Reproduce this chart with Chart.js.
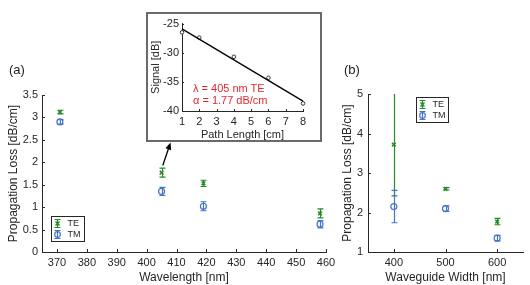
<!DOCTYPE html>
<html>
<head>
<meta charset="utf-8">
<script src="https://cdn.jsdelivr.net/npm/chart.js@4"></script>
<style>
  body { margin: 0; background: #fff; width: 530px; height: 285px; position: relative; overflow: hidden;
         font-family: "Liberation Sans", Arial, sans-serif; }
  #chartA { position: absolute; left: 0; top: 0; }
  #chartB { position: absolute; left: 340px; top: 0; }
  #insetBox { position: absolute; left: 146px; top: 12px; width: 172px; height: 126px;
              border: 2px solid #6a6a6a; background: #fff; }
  #inset { position: absolute; left: 0; top: 0; }
  .panel { position: absolute; font-size: 13px; color: #222; }
  .note { position: absolute; font-size: 11px; color: #e8272b; white-space: nowrap; }
</style>
</head>
<body>
<canvas id="chartA" width="340" height="285"></canvas>
<canvas id="chartB" width="190" height="285"></canvas>
<div id="insetBox">
  <canvas id="inset" width="172" height="126"></canvas>
  <div class="note" style="left:45px;top:68px">λ = 405 nm TE</div>
  <div class="note" style="left:45px;top:80px">α = 1.77 dB/cm</div>
</div>
<div class="panel" style="left:9px;top:62px">(a)</div>
<div class="panel" style="left:344px;top:62px">(b)</div>

<script>
// (a) loss vs wavelength
const wavelengths = [371, 405, 419, 458];
const teLossA = [3.12, 1.77, 1.53, 0.86];
const teErrA = [0.04, 0.1, 0.07, 0.1];
const tmLossA = [2.9, 1.35, 1.02, 0.62];
const tmErrA = [0.05, 0.09, 0.1, 0.08];
const waveTicks = [370, 380, 390, 400, 410, 420, 430, 440, 450, 460];
const lossTicksA = [0, 0.5, 1, 1.5, 2, 2.5, 3, 3.5];

// (b) loss vs waveguide width
const widths = [400, 500, 600];
const teLossB = [3.72, 2.6, 1.77];
const teErrB = [1.3, 0.03, 0.08];
const tmLossB = [2.15, 2.1, 1.35];
const tmErrB = [0.41, 0.07, 0.07];
const widthTicks = [400, 500, 600];
const lossTicksB = [1, 2, 3, 4, 5];

// inset: cutback measurement
const pathLengths = [1, 2, 4, 6, 8];
const signals = [-26.5, -27.4, -30.7, -34.3, -38.7];
const fitLengths = [1, 8];
const fitSignals = [-25.9, -38.3];
const pathTicks = [1, 2, 3, 4, 5, 6, 7, 8];
const signalTicks = [-40, -35, -30, -25];

const GREEN = 'rgb(38,140,38)';
const BLUE = 'rgb(70,116,200)';
const INK = '#262626';
const FONT = '"Liberation Sans", Arial, sans-serif';

const pts = (xs, ys) => xs.map((x, i) => ({ x, y: ys[i] }));

const errorBars = {
  id: 'errorBars',
  beforeDatasetsDraw(chart) {
    const { ctx, chartArea, scales: { x, y } } = chart;
    ctx.save();
    chart.data.datasets.forEach(ds => {
      if (!ds.errors) return;
      ctx.strokeStyle = ds.borderColor;
      ctx.lineWidth = 1.2;
      ds.data.forEach((p, i) => {
        const px = Math.round(x.getPixelForValue(p.x)) + 0.5;
        const hi = y.getPixelForValue(p.y + ds.errors[i]);
        const lo = y.getPixelForValue(p.y - ds.errors[i]);
        ctx.beginPath();
        ctx.moveTo(px, Math.max(hi, chartArea.top));
        ctx.lineTo(px, lo);
        if (hi >= chartArea.top) { ctx.moveTo(px - 3, hi); ctx.lineTo(px + 3, hi); }
        ctx.moveTo(px - 3, lo); ctx.lineTo(px + 3, lo);
        ctx.stroke();
      });
    });
    ctx.restore();
  }
};

// MATLAB-style ticks pointing into the plot
const inTicks = {
  id: 'inTicks',
  afterDraw(chart, args, opts) {
    const { ctx, chartArea: a, scales: { x, y } } = chart;
    const len = opts.len || 3;
    ctx.save();
    ctx.strokeStyle = INK;
    ctx.lineWidth = 1;
    ctx.beginPath();
    x.ticks.forEach(t => {
      const px = Math.round(x.getPixelForValue(t.value)) + 0.5;
      ctx.moveTo(px, a.bottom); ctx.lineTo(px, a.bottom - len);
    });
    y.ticks.forEach(t => {
      const py = Math.round(y.getPixelForValue(t.value)) + 0.5;
      ctx.moveTo(a.left, py); ctx.lineTo(a.left + len, py);
    });
    ctx.stroke();
    ctx.restore();
  }
};

const boxLegend = {
  id: 'boxLegend',
  afterDraw(chart, args, opts) {
    if (!opts.w) return;
    const { ctx, chartArea } = chart;
    const x0 = Math.round(chartArea.left + opts.dx) + 0.5;
    const y0 = Math.round(chartArea.top + opts.dy) + 0.5;
    ctx.save();
    ctx.fillStyle = '#fff';
    ctx.fillRect(x0, y0, opts.w, opts.h);
    ctx.strokeStyle = INK;
    ctx.lineWidth = 1;
    ctx.strokeRect(x0, y0, opts.w, opts.h);
    ctx.font = '9px ' + FONT;
    ctx.textBaseline = 'middle';
    chart.data.datasets.forEach((ds, i) => {
      const gx = x0 + 6, gy = y0 + 7 + i * 11;
      ctx.strokeStyle = ds.borderColor;
      ctx.lineWidth = 1.2;
      ctx.beginPath();
      ctx.moveTo(gx, gy - 4); ctx.lineTo(gx, gy + 4);
      ctx.moveTo(gx - 3, gy - 4); ctx.lineTo(gx + 3, gy - 4);
      ctx.moveTo(gx - 3, gy + 4); ctx.lineTo(gx + 3, gy + 4);
      ctx.stroke();
      if (ds.pointStyle === 'circle') {
        ctx.beginPath(); ctx.arc(gx, gy, 2.8, 0, Math.PI * 2); ctx.stroke();
      } else {
        ctx.lineWidth = 1.5;
        ctx.beginPath();
        ctx.moveTo(gx - 2, gy - 2); ctx.lineTo(gx + 2, gy + 2);
        ctx.moveTo(gx - 2, gy + 2); ctx.lineTo(gx + 2, gy - 2);
        ctx.stroke();
      }
      ctx.fillStyle = INK;
      ctx.fillText(ds.label, x0 + 16, gy + 0.5);
    });
    ctx.restore();
  }
};

const pointerArrow = {
  id: 'pointerArrow',
  afterDraw(chart, args, opts) {
    if (!opts.from) return;
    const { ctx, scales: { x, y } } = chart;
    const x1 = x.getPixelForValue(opts.from[0]), y1 = y.getPixelForValue(opts.from[1]);
    const x2 = x.getPixelForValue(opts.to[0]), y2 = y.getPixelForValue(opts.to[1]);
    const ang = Math.atan2(y2 - y1, x2 - x1);
    ctx.save();
    ctx.strokeStyle = '#000';
    ctx.fillStyle = '#000';
    ctx.lineWidth = 1.3;
    ctx.beginPath();
    ctx.moveTo(x1, y1);
    ctx.lineTo(x2 - 5 * Math.cos(ang), y2 - 5 * Math.sin(ang));
    ctx.stroke();
    ctx.beginPath();
    ctx.moveTo(x2, y2);
    ctx.lineTo(x2 - 7 * Math.cos(ang) + 3 * Math.sin(ang), y2 - 7 * Math.sin(ang) - 3 * Math.cos(ang));
    ctx.lineTo(x2 - 7 * Math.cos(ang) - 3 * Math.sin(ang), y2 - 7 * Math.sin(ang) + 3 * Math.cos(ang));
    ctx.closePath();
    ctx.fill();
    ctx.restore();
  }
};

function axis(o) {
  return {
    type: 'linear',
    min: o.min,
    max: o.max,
    afterBuildTicks: s => { s.ticks = o.ticks.map(v => ({ value: v })); },
    afterFit: s => { if (o.width) s.width = o.width; if (o.height) s.height = o.height; },
    grid: { display: false, drawTicks: false },
    border: { display: true, color: INK, width: 1 },
    ticks: {
      color: INK, font: { family: FONT, size: 11 }, padding: o.pad, maxRotation: 0, autoSkip: false,
      callback: v => String(v)
    },
    title: {
      display: true, text: o.title, color: INK,
      font: { family: FONT, size: o.titleSize || 12, lineHeight: o.titleLH || 1.2 },
      padding: { top: o.titlePad, bottom: 0 }
    }
  };
}

function lossDatasets(xs, te, teErr, tm, tmErr) {
  return [
    { label: 'TE', data: pts(xs, te), errors: teErr, pointStyle: 'crossRot', pointRadius: 2.6,
      borderColor: GREEN, backgroundColor: GREEN, pointBorderWidth: 1.6, clip: false },
    { label: 'TM', data: pts(xs, tm), errors: tmErr, pointStyle: 'circle', pointRadius: 3,
      borderColor: BLUE, backgroundColor: 'rgba(0,0,0,0)', pointBorderWidth: 1.2, clip: false }
  ];
}

const common = {
  responsive: false,
  animation: false,
  devicePixelRatio: 1,
  events: []
};

new Chart(document.getElementById('chartA'), {
  type: 'scatter',
  data: { datasets: lossDatasets(wavelengths, teLossA, teErrA, tmLossA, tmErrA) },
  options: {
    ...common,
    layout: { padding: { top: 95, right: 14, left: 0, bottom: 0 } },
    scales: {
      x: axis({ min: 365, max: 460, ticks: waveTicks, title: 'Wavelength [nm]', height: 33, pad: 4, titlePad: 6 }),
      y: axis({ min: 0, max: 3.5, ticks: lossTicksA, title: 'Propagation Loss [dB/cm]', width: 42, pad: 4, titlePad: 6 })
    },
    plugins: {
      legend: { display: false },
      tooltip: { enabled: false },
      inTicks: { len: 3 },
      boxLegend: { dx: 9, dy: 121, w: 33, h: 25 },
      pointerArrow: { from: [405.4, 1.93], to: [408, 2.44] }
    }
  },
  plugins: [errorBars, inTicks, boxLegend, pointerArrow]
});

new Chart(document.getElementById('chartB'), {
  type: 'scatter',
  data: { datasets: lossDatasets(widths, teLossB, teErrB, tmLossB, tmErrB) },
  options: {
    ...common,
    layout: { padding: { top: 94, right: 7, left: 0, bottom: 0 } },
    scales: {
      x: axis({ min: 350, max: 650, ticks: widthTicks, title: 'Waveguide Width [nm]', height: 33, pad: 4, titlePad: 6 }),
      y: axis({ min: 1, max: 5, ticks: lossTicksB, title: 'Propagation Loss [dB/cm]', width: 28, pad: 5, titlePad: 0 })
    },
    plugins: {
      legend: { display: false },
      tooltip: { enabled: false },
      inTicks: { len: 3 },
      boxLegend: { dx: 48, dy: 3, w: 32, h: 25 }
    }
  },
  plugins: [errorBars, inTicks, boxLegend]
});

new Chart(document.getElementById('inset'), {
  type: 'scatter',
  data: {
    datasets: [
      { label: 'fit', data: pts(fitLengths, fitSignals), showLine: true, pointRadius: 0,
        borderColor: '#000', borderWidth: 1.3, clip: false },
      { label: 'data', data: pts(pathLengths, signals), pointStyle: 'circle', pointRadius: 1.8,
        borderColor: '#333', backgroundColor: '#fff', pointBorderWidth: 1, clip: false }
    ]
  },
  options: {
    ...common,
    layout: { padding: { top: 8, right: 17, left: 0, bottom: 0 } },
    scales: {
      x: axis({ min: 1, max: 8, ticks: pathTicks, title: 'Path Length [cm]', titleSize: 11, titleLH: 0.9, height: 29, pad: 4, titlePad: 0 }),
      y: axis({ min: -40, max: -25, ticks: signalTicks, title: 'Signal [dB]', titleSize: 11, width: 34, pad: 3, titlePad: 1 })
    },
    plugins: {
      legend: { display: false },
      tooltip: { enabled: false },
      inTicks: { len: 2 }
    }
  },
  plugins: [inTicks]
});
</script>
</body>
</html>
